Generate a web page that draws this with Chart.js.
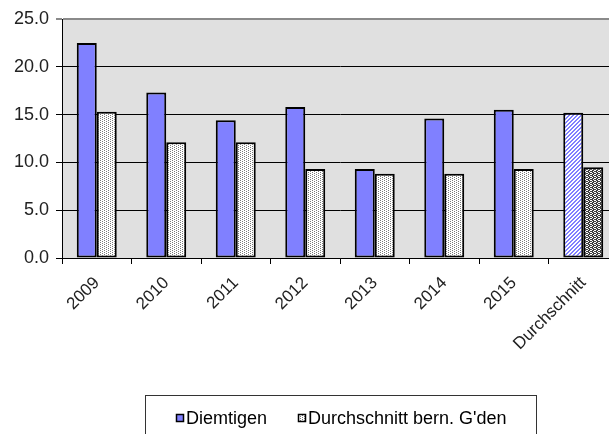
<!DOCTYPE html>
<html>
<head>
<meta charset="utf-8">
<script src="https://cdn.jsdelivr.net/npm/chart.js@4"></script>
<style>
html,body{margin:0;padding:0;background:#fff;overflow:hidden;width:609px;height:434px;}
#wrap{width:620px;height:434px;position:relative;}
</style>
</head>
<body>
<div id="wrap"><canvas id="c" width="620" height="434"></canvas></div>
<script>
const categories = ["2009","2010","2011","2012","2013","2014","2015","Durchschnitt"];
const diemtigen = [22.5, 17.3, 14.4, 15.8, 9.3, 14.6, 15.5, 15.2];
const bernAvg = [15.3, 12.1, 12.1, 9.3, 8.8, 8.8, 9.3, 9.5];
const seriesNames = ["Diemtigen", "Durchschnitt bern. G'den"];
const yTicks = [0, 5, 10, 15, 20, 25];

function makePattern(size, bg, fg, pixels) {
  const c = document.createElement('canvas');
  c.width = size; c.height = size;
  const x = c.getContext('2d');
  x.fillStyle = bg; x.fillRect(0, 0, size, size);
  x.fillStyle = fg;
  pixels.forEach(p => x.fillRect(p[0], p[1], 1, 1));
  return x.createPattern(c, 'repeat');
}
const ctx = document.getElementById('c').getContext('2d');
const blue = '#8080FF';
const dotPattern = makePattern(4, '#ffffff', '#7a7a7a', [[0,0],[2,1],[0,2],[2,3]]);
const hatchPattern = makePattern(4, '#ffffff', blue, [[3,0],[2,1],[1,2],[0,3],[0,0],[3,1],[2,2],[1,3]]);
const darkPattern = makePattern(4, '#ffffff', '#404040', [[0,0],[1,0],[2,1],[3,1],[0,2],[1,2],[2,3],[3,3],[1,1],[3,3],[0,3]]);

const bgPlugin = {
  id: 'plotBg',
  beforeDraw(chart) {
    const a = chart.chartArea, c = chart.ctx;
    c.save(); c.fillStyle = '#e0e0e0';
    c.fillRect(a.left, a.top, a.right - a.left, a.bottom - a.top);
    c.restore();
  }
};
const legendPlugin = {
  id: 'customLegend',
  afterDraw(chart) {
    const c = chart.ctx;
    c.save();
    c.strokeStyle = '#333'; c.lineWidth = 1;
    c.strokeRect(145.5, 395.5, 391, 60);
    c.font = '18px "Liberation Sans", Arial, sans-serif';
    c.textBaseline = 'middle';
    c.fillStyle = '#000';
    const items = [
      {x: 176, fill: blue, text: seriesNames[0]},
      {x: 298, fill: dotPattern, text: seriesNames[1]}
    ];
    items.forEach(it => {
      c.fillStyle = it.fill;
      c.fillRect(it.x, 414, 8, 8);
      c.strokeStyle = '#000'; c.lineWidth = 1.5;
      c.strokeRect(it.x + 0.5, 414.5, 7, 7);
      c.fillStyle = '#000';
      c.fillText(it.text, it.x + 10, 419);
    });
    c.restore();
  }
};

new Chart(ctx, {
  type: 'bar',
  data: {
    labels: categories,
    datasets: [
      {
        label: seriesNames[0],
        data: diemtigen,
        backgroundColor: (cx) => cx.dataIndex === categories.length - 1 ? hatchPattern : blue,
        borderColor: '#000', borderWidth: 2, borderSkipped: false,
        categoryPercentage: 0.575, barPercentage: 1.0
      },
      {
        label: seriesNames[1],
        data: bernAvg,
        backgroundColor: (cx) => cx.dataIndex === categories.length - 1 ? darkPattern : dotPattern,
        borderColor: '#000', borderWidth: 2, borderSkipped: false,
        categoryPercentage: 0.575, barPercentage: 1.0
      }
    ]
  },
  options: {
    responsive: false,
    animation: false,
    events: [],
    layout: {padding: {top: 19, right: 2, left: 0, bottom: 0}},
    plugins: {legend: {display: false}, tooltip: {enabled: false}},
    scales: {
      x: {
        offset: true,
        grid: {offset: true, drawOnChartArea: false, drawTicks: true, tickLength: 6, color: '#000', lineWidth: 1},
        border: {display: true, color: '#000', width: 1},
        ticks: {
          color: '#222', minRotation: 45, maxRotation: 45, autoSkip: false, padding: 9,
          font: {family: '"Liberation Sans", Arial, sans-serif', size: 17}
        },
        afterFit(s) { s.height = 434 - 258; }
      },
      y: {
        min: 0, max: 25,
        afterBuildTicks(s) { s.ticks = yTicks.map(v => ({value: v})); },
        grid: {
          color: (cx) => (cx.tick && cx.tick.value === 25) ? '#8a8a8a' : '#000',
          lineWidth: (cx) => (cx.tick && cx.tick.value === 25) ? 2 : 1,
          tickLength: 6, drawTicks: true
        },
        border: {display: true, color: '#000', width: 1},
        ticks: {
          color: '#222', padding: 7,
          callback: (v) => Number(v).toFixed(1),
          font: {family: '"Liberation Sans", Arial, sans-serif', size: 18}
        },
        afterFit(s) { s.width = 62; }
      }
    }
  },
  plugins: [bgPlugin, legendPlugin]
});
</script>
</body>
</html>
